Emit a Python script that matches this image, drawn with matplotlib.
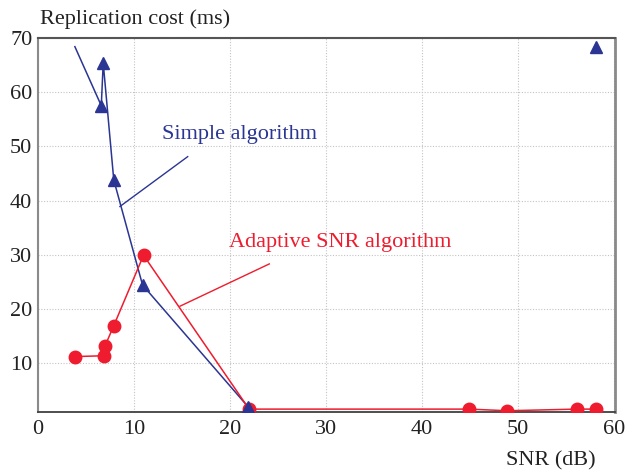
import matplotlib
matplotlib.use("Agg")
import matplotlib.pyplot as plt

# 데이터
simple_snr = [3.85, 6.6, 6.8, 7.9, 10.9, 21.9]
simple_cost = [68.4, 57.5, 65.4, 43.8, 24.4, 1.9]
simple_mark = [False, True, True, True, True, True]
simple_extra_snr = [58.1]
simple_extra_cost = [68.4]

adaptive_snr = [3.9, 6.9, 7.0, 7.9, 11.0, 22.0, 44.9, 48.9, 56.1, 58.1]
adaptive_cost = [11.2, 11.35, 13.2, 16.9, 29.9, 1.5, 1.5, 1.2, 1.5, 1.5]

x_ticks = [0, 10, 20, 30, 40, 50, 60]
y_ticks = [10, 20, 30, 40, 50, 60, 70]

blue = '#2b3593'
red = '#ee1c2e'
fs = 16

plt.rcParams['font.family'] = ['Liberation Serif', 'DejaVu Serif']

fig = plt.figure(figsize=(6.32, 4.75), dpi=100)
ax = fig.add_axes([0.060, 0.133, 0.913, 0.787])

# 격자
ax.grid(True, linestyle=(0, (1, 1.5)), color='#c4c4c4', linewidth=0.8)
ax.set_axisbelow(True)

# Simple algorithm
ax.plot(simple_snr, simple_cost, '-', color=blue, linewidth=1.1, zorder=3)
mx = [x for x, m in zip(simple_snr, simple_mark) if m]
my = [y for y, m in zip(simple_cost, simple_mark) if m]
ax.plot(mx, my, '^', color=blue, markersize=8.5, linestyle='none', zorder=5)
ax.plot(simple_extra_snr, simple_extra_cost, '^', color=blue, markersize=8.5,
        linestyle='none', zorder=5)

# Adaptive SNR algorithm
ax.plot(adaptive_snr, adaptive_cost, '-', color=red, linewidth=1.1, zorder=4)
ax.plot(adaptive_snr, adaptive_cost, 'o', color=red, markersize=9,
        linestyle='none', zorder=4)

# 주석
ax.plot([15.6, 8.54], [48.1, 38.9], '-', color=blue, linewidth=1.0, zorder=3)
ax.text(12.9, 52.1, 'Simple algorithm', color=blue, fontsize=fs,
        ha='left', va='center')
ax.plot([24.1, 14.8], [28.3, 20.5], '-', color=red, linewidth=1.0, zorder=3)
ax.text(19.9, 32.3, 'Adaptive SNR algorithm', color=red, fontsize=fs,
        ha='left', va='center')

ax.set_xlim(0, 60.1)
ax.set_ylim(1.0, 70)
ax.set_xticks(x_ticks)
ax.set_yticks(y_ticks)
ax.tick_params(length=0, labelsize=fs, colors='#222222')
ax.tick_params(axis='y', pad=4)
ax.tick_params(axis='x', pad=6)

ax.spines['left'].set_color('#8a8a8a')
ax.spines['left'].set_linewidth(1.5)
ax.spines['bottom'].set_color('#404040')
ax.spines['bottom'].set_linewidth(1.3)
ax.spines['top'].set_color('#555555')
ax.spines['top'].set_linewidth(1.5)
ax.spines['right'].set_color('#8a8a8a')
ax.spines['right'].set_linewidth(2.0)

fig.text(40/632, 1 - 19/475, 'Replication cost (ms)', fontsize=fs,
         ha='left', va='center', color='#222222')
fig.text(596/632, 1 - 461/475, 'SNR (dB)', fontsize=fs,
         ha='right', va='center', color='#222222')

plt.savefig('out.png', dpi=100)
plt.close()
